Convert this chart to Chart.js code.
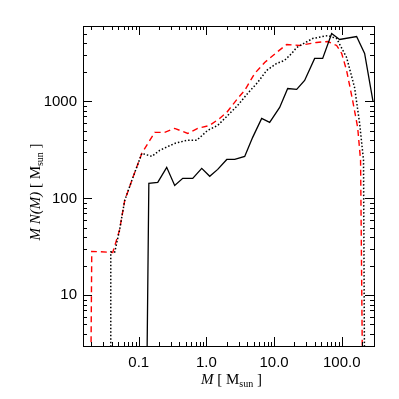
<!DOCTYPE html>
<html>
<head>
<meta charset="utf-8">
<script src="https://cdn.jsdelivr.net/npm/chart.js@4.4.1/dist/chart.umd.min.js"></script>
<style>
html, body { margin: 0; padding: 0; background: #fff; }
#wrap { width: 399px; height: 399px; }
</style>
</head>
<body>
<div id="wrap"><canvas id="imfChart" width="399" height="399"></canvas></div>
<script>
// solid black curve
const massSolid = [0.131, 0.141, 0.191, 0.259, 0.340, 0.447, 0.628, 0.853, 1.12, 1.47, 2.0, 2.62, 3.68, 4.83, 6.56, 8.61, 12.1, 15.9, 21.6, 28.3, 39.8, 52.3, 71.0, 93.1, 166, 218, 290];
const valSolid  = [1, 143, 146, 209, 136, 161, 161, 204, 169, 199, 252, 252, 271, 426, 668, 608, 867, 1360, 1330, 1645, 2775, 2775, 5020, 4360, 4670, 3125, 1000];

// dotted black curve
const massDotted = [0.0386, 0.0386, 0.0442, 0.052, 0.062, 0.079, 0.111, 0.156, 0.204, 0.340, 0.512, 0.719, 1.04, 1.47, 2.07, 2.90, 4.07, 5.72, 7.78, 10.9, 14.3, 18.2, 21.6, 37.2, 61.9, 84.1, 118, 155, 184, 210, 218];
const valDotted  = [1, 28, 28, 47, 95, 153, 291, 271, 313, 369, 397, 397, 502, 566, 718, 910, 1209, 1570, 2090, 2466, 2650, 3125, 3600, 4460, 4780, 4460, 2845, 1390, 593, 247, 1];

// dashed red curve
const massDashed = [0.0195, 0.0202, 0.0413, 0.052, 0.062, 0.079, 0.111, 0.172, 0.242, 0.340, 0.530, 0.743, 1.12, 1.57, 2.0, 2.90, 3.68, 5.17, 7.26, 10.9, 15.4, 23.9, 42.6, 61.9, 84.1, 100, 118, 145, 172, 190, 204];
const valDashed  = [1, 28.4, 27.7, 47, 95, 153, 291, 479, 479, 527, 468, 527, 566, 668, 771, 1074, 1298, 1944, 2523, 3200, 3870, 3780, 4060, 4150, 3780, 3125, 2090, 1024, 540, 247, 1];

// axes
const xMajorTicks = [0.1, 1, 10, 100];
const xTickLabels = ['0.1', '1.0', '10.0', '100.0'];
const yMajorTicks = [10, 100, 1000];
const yTickLabels = ['10', '100', '1000'];

const xMin = 0.015, xMax = 300;
const yMin = 3, yMax = 6000;

function logTicks(min, max) {
    const out = [];
    for (let k = Math.floor(Math.log10(min)); k <= Math.ceil(Math.log10(max)); k++) {
        for (let m = 1; m <= 9; m++) {
            const v = parseFloat((m * Math.pow(10, k)).toPrecision(6));
            if (v >= min && v <= max) out.push(v);
        }
    }
    return out;
}

function toPoints(xs, ys) {
    return xs.map((x, i) => ({ x: x, y: ys[i] }));
}

function isMajor(v, majors) {
    return majors.some(m => Math.abs(m - v) / m < 1e-6);
}

const tickFont = { family: '"Liberation Sans", Arial, sans-serif', size: 15 };

// inward ticks on all four sides + frame
const frameTicks = {
    id: 'frameTicks',
    afterDraw(chart) {
        const ctx = chart.ctx;
        const a = chart.chartArea;
        const xs = chart.scales.x, ys = chart.scales.y;
        ctx.save();
        ctx.strokeStyle = '#000';
        ctx.lineWidth = 1;
        ctx.strokeRect(Math.round(a.left) + 0.5, Math.round(a.top) + 0.5, Math.round(a.right - a.left), Math.round(a.bottom - a.top));
        ctx.beginPath();
        xs.ticks.forEach(t => {
            const px = Math.round(xs.getPixelForValue(t.value)) + 0.5;
            const len = isMajor(t.value, xMajorTicks) ? 9 : 4;
            ctx.moveTo(px, a.bottom); ctx.lineTo(px, a.bottom - len);
            ctx.moveTo(px, a.top); ctx.lineTo(px, a.top + len);
        });
        ys.ticks.forEach(t => {
            const py = Math.round(ys.getPixelForValue(t.value)) + 0.5;
            const len = isMajor(t.value, yMajorTicks) ? 9 : 4;
            ctx.moveTo(a.left, py); ctx.lineTo(a.left + len, py);
            ctx.moveTo(a.right, py); ctx.lineTo(a.right - len, py);
        });
        ctx.stroke();

        // axis titles with subscript
        const parts = [
            { t: 'M', f: 'italic 15px "Liberation Serif", serif', dy: 0 },
            { t: ' [ M', f: '15px "Liberation Serif", serif', dy: 0 },
            { t: 'sun', f: '10px "Liberation Serif", serif', dy: 3 },
            { t: ' ]', f: '15px "Liberation Serif", serif', dy: 0 }
        ];
        const yparts = [
            { t: 'M N(M)', f: 'italic 15px "Liberation Serif", serif', dy: 0 },
            { t: ' [ M', f: '15px "Liberation Serif", serif', dy: 0 },
            { t: 'sun', f: '10px "Liberation Serif", serif', dy: 3 },
            { t: ' ]', f: '15px "Liberation Serif", serif', dy: 0 }
        ];
        function drawParts(list, cx, baseY) {
            let w = 0;
            list.forEach(p => { ctx.font = p.f; w += ctx.measureText(p.t).width; });
            let x = cx - w / 2;
            ctx.fillStyle = '#000';
            ctx.textBaseline = 'alphabetic';
            ctx.textAlign = 'left';
            list.forEach(p => {
                ctx.font = p.f;
                ctx.fillText(p.t, x, baseY + p.dy);
                x += ctx.measureText(p.t).width;
            });
        }
        drawParts(parts, (a.left + a.right) / 2 + 3, 384);
        ctx.translate(40, (a.top + a.bottom) / 2 + 6);
        ctx.rotate(-Math.PI / 2);
        drawParts(yparts, 0, 0);
        ctx.restore();
    }
};

const ctx = document.getElementById('imfChart').getContext('2d');

new Chart(ctx, {
    type: 'line',
    data: {
        datasets: [{
            data: toPoints(massSolid, valSolid),
            borderColor: '#000',
            borderWidth: 1.3,
            pointRadius: 0,
            tension: 0
        }, {
            data: toPoints(massDotted, valDotted),
            borderColor: '#000',
            borderWidth: 1.5,
            borderDash: [1.5, 2],
            pointRadius: 0,
            tension: 0
        }, {
            data: toPoints(massDashed, valDashed),
            borderColor: '#ff0000',
            borderWidth: 1.4,
            borderDash: [6, 4],
            pointRadius: 0,
            tension: 0
        }]
    },
    options: {
        responsive: false,
        animation: false,
        devicePixelRatio: 1,
        layout: { padding: { top: 26, right: 25, left: 0, bottom: 0 } },
        plugins: {
            legend: { display: false },
            tooltip: { enabled: false }
        },
        scales: {
            x: {
                type: 'logarithmic',
                min: xMin,
                max: xMax,
                grid: { display: false, drawTicks: false },
                border: { display: false },
                afterBuildTicks: function (scale) {
                    scale.ticks = logTicks(xMin, xMax).map(v => ({ value: v }));
                },
                afterFit: function (scale) { scale.height = 53; },
                ticks: {
                    autoSkip: false,
                    maxRotation: 0,
                    padding: 8,
                    color: '#000',
                    font: tickFont,
                    callback: function (value) {
                        const i = xMajorTicks.findIndex(m => Math.abs(m - value) / m < 1e-6);
                        return i >= 0 ? xTickLabels[i] : '';
                    }
                }
            },
            y: {
                type: 'logarithmic',
                min: yMin,
                max: yMax,
                grid: { display: false, drawTicks: false },
                border: { display: false },
                afterBuildTicks: function (scale) {
                    scale.ticks = logTicks(yMin, yMax).map(v => ({ value: v }));
                },
                afterFit: function (scale) { scale.width = 83; },
                ticks: {
                    autoSkip: false,
                    padding: 6,
                    color: '#000',
                    font: tickFont,
                    callback: function (value) {
                        const i = yMajorTicks.findIndex(m => Math.abs(m - value) / m < 1e-6);
                        return i >= 0 ? yTickLabels[i] : '';
                    }
                }
            }
        }
    },
    plugins: [frameTicks]
});
</script>
</body>
</html>
